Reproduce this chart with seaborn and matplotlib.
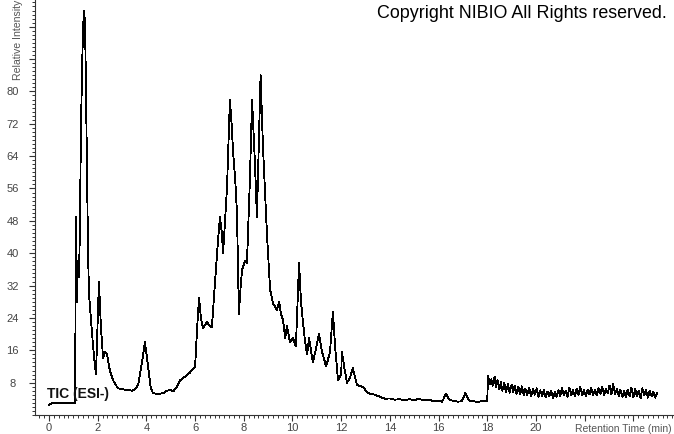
import matplotlib
matplotlib.use("Agg")
import matplotlib.pyplot as plt
import seaborn as sns
import pandas as pd
from matplotlib.ticker import MultipleLocator, FixedLocator

# Retention time (min) and relative intensity
time_min = [
    0.0, 0.15, 1.07, 1.11, 1.15, 1.19, 1.23, 1.27, 1.31, 1.36, 1.40, 1.44, 1.48, 1.52,
    1.56, 1.60, 1.64, 1.72, 1.81, 1.89, 1.93, 2.05, 2.13, 2.22, 2.30, 2.38, 2.50, 2.63,
    2.83, 3.00, 3.20, 3.41, 3.55, 3.66, 3.82, 3.94, 4.07, 4.17, 4.27, 4.45, 4.68, 4.85,
    4.97, 5.10, 5.26, 5.38, 5.60, 5.79, 6.00, 6.08, 6.16, 6.24, 6.32, 6.49, 6.60, 6.69,
    6.82, 6.94, 7.02, 7.10, 7.15, 7.19, 7.31, 7.43, 7.50, 7.56, 7.65, 7.72, 7.80, 7.85,
    7.93, 8.05, 8.13, 8.25, 8.34, 8.46, 8.54, 8.62, 8.69, 8.79, 8.95, 9.08, 9.20, 9.36,
    9.45, 9.53, 9.61, 9.70, 9.77, 9.90, 10.02, 10.14, 10.27, 10.35, 10.43, 10.52, 10.60,
    10.68, 10.76, 10.84, 10.95, 11.09, 11.20, 11.38, 11.54, 11.66, 11.75, 11.87, 12.00,
    12.03, 12.15, 12.24, 12.35, 12.48, 12.65, 12.90, 13.10, 13.39, 13.59,
    13.80, 14.00, 14.20, 14.40, 14.60, 14.80, 15.00, 15.20, 15.40, 15.60, 15.80, 16.00,
    16.15, 16.30, 16.45, 16.60, 16.80, 16.95, 17.10, 17.25, 17.45, 17.60, 17.80, 17.95,
    18.00, 18.03, 18.10, 18.17, 18.22, 18.30, 18.36, 18.42, 18.50, 18.56, 18.62, 18.70,
    18.77, 18.85, 18.92, 19.00, 19.07, 19.13, 19.20, 19.28, 19.35, 19.42, 19.50, 19.57,
    19.64, 19.72, 19.80, 19.88, 19.95, 20.03, 20.10, 20.18, 20.25, 20.32, 20.40, 20.47,
    20.55, 20.62, 20.70, 20.78, 20.85, 20.92, 21.00, 21.07, 21.15, 21.22, 21.30, 21.37,
    21.45, 21.52, 21.60, 21.67, 21.75, 21.82, 21.90, 21.97, 22.05, 22.12, 22.20, 22.27,
    22.35, 22.42, 22.50, 22.57, 22.65, 22.72, 22.80, 22.87, 22.95, 23.02, 23.10, 23.17,
    23.25, 23.32, 23.40, 23.47, 23.55, 23.62, 23.70, 23.77, 23.85, 23.92, 24.00, 24.07,
    24.15, 24.22, 24.30, 24.37, 24.45, 24.52, 24.60, 24.67, 24.75, 24.82, 24.90, 24.97,
]
intensity = [
    2.5, 3.0, 3.0, 49, 28, 38, 34, 46, 70, 86, 96, 100, 97, 80,
    60, 42, 30, 24, 17, 12, 10, 33, 22, 14, 15.5, 15, 11, 8.6,
    6.6, 6.4, 6.2, 6.0, 6.5, 7.4, 13, 18, 12, 7, 5.4, 5.2, 5.4, 6.0,
    6.2, 5.8, 7.0, 8.6, 9.5, 10.5, 12, 21, 29, 24, 21.5, 23, 22, 21.7,
    33, 43, 49, 45, 40, 44, 56, 78, 72, 65, 58, 50, 25, 30,
    36, 38, 37.5, 58, 78, 62, 49, 68, 84, 66, 45, 31, 27.6, 26,
    28, 25, 23.5, 19, 22, 18, 19, 17, 37.5, 28, 23, 18, 15,
    19, 16, 13, 16, 20, 16, 12, 15.5, 25.5, 17, 8.6, 10,
    15.5, 11, 8, 9, 11.6, 7.4, 6.9, 5.4, 5.0, 4.5,
    4.0, 4.1, 3.8, 3.9, 3.6, 3.9, 3.7, 4.0, 3.6, 3.8, 3.4, 3.5,
    3.3, 5.2, 3.8, 3.5, 3.3, 3.4, 5.4, 3.6, 3.4, 3.2, 3.5, 3.4,
    3.5, 9.6, 7.6, 8.8, 7.2, 9.5, 6.8, 8.6, 6.4, 8.2, 6.0, 8.0,
    5.6, 7.6, 5.5, 7.5, 5.7, 7.3, 5.2, 7.0, 5.1, 7.1, 4.9, 6.5,
    4.8, 6.8, 4.7, 6.4, 5.0, 6.6, 4.5, 6.1, 4.7, 6.2, 4.4, 5.8,
    4.6, 6.0, 4.3, 5.6, 4.5, 6.1, 4.7, 6.6, 4.8, 6.0, 4.5, 6.8,
    4.9, 6.1, 4.7, 6.4, 5.0, 6.9, 4.9, 6.1, 4.7, 6.3, 5.1, 6.7,
    4.9, 6.2, 4.8, 6.6, 5.2, 7.0, 5.0, 6.4, 5.3, 7.3, 5.1, 7.6,
    5.2, 6.4, 4.7, 6.2, 4.5, 5.9, 4.4, 6.3, 4.7, 6.8, 4.4, 6.4,
    4.7, 6.0, 4.1, 6.6, 4.8, 6.2, 4.3, 6.0, 4.6, 5.7, 4.3, 5.4,
]

x_tick_values = [0, 2, 4, 6, 8, 10, 12, 14, 16, 18, 20]
y_tick_values = [8, 16, 24, 32, 40, 48, 56, 64, 72, 80]
trace_label = "TIC (ESI-)"
copyright_text = "Copyright NIBIO All Rights reserved."
x_title = "Retention Time (min)"
y_title = "Relative Intensity"

sns.set_style("ticks")
plt.rcParams["font.family"] = ["Liberation Sans", "DejaVu Sans"]

df = pd.DataFrame({"time": time_min, "intensity": intensity})

fig = plt.figure(figsize=(6.74, 4.34), dpi=100)
ax = fig.add_axes([35 / 674, 19 / 434, 639 / 674, 415 / 434])

sns.lineplot(data=df, x="time", y="intensity", ax=ax, estimator=None, sort=False,
             color="black", linewidth=0.6, antialiased=False)

ax.set_xlim(-0.575, 25.67)
ax.set_ylim(0, 102.6)
ax.set_xlabel("")
ax.set_ylabel("")

ax.xaxis.set_major_locator(FixedLocator(x_tick_values + [22, 24]))
ax.set_xticklabels([str(v) for v in x_tick_values] + ["", ""])
ax.xaxis.set_minor_locator(MultipleLocator(0.2))
ax.yaxis.set_major_locator(FixedLocator(y_tick_values + [88, 96]))
ax.set_yticklabels([str(v) for v in y_tick_values] + ["", ""])
ax.yaxis.set_minor_locator(MultipleLocator(1))

for lab in ax.get_yticklabels():
    lab.set_horizontalalignment("center")

ax.tick_params(axis="both", which="major", length=4, width=0.8, color="#333333",
               labelsize=8, labelcolor="#444444")
ax.tick_params(axis="both", which="minor", length=2.2, width=0.7, color="#333333")
ax.tick_params(axis="y", which="major", pad=12)
ax.tick_params(axis="x", which="major", pad=2)

sns.despine(ax=ax, top=True, right=True)
for side in ("left", "bottom"):
    ax.spines[side].set_color("#333333")
    ax.spines[side].set_linewidth(0.8)

fig.text(47 / 674, 1 - 394 / 434, trace_label, fontsize=10, fontweight="bold",
         color="#111111", ha="left", va="center")
fig.text(667 / 674, 1 - 13 / 434, copyright_text, fontsize=12.9, color="black",
         ha="right", va="center")
fig.text(672 / 674, 1 - 429 / 434, x_title, fontsize=7.5, color="#555555",
         ha="right", va="center")
fig.text(18 / 674, 1 - 80 / 434, y_title, fontsize=7.6, color="#555555",
         rotation=90, ha="center", va="bottom")

fig.savefig("out.png", dpi=100)
